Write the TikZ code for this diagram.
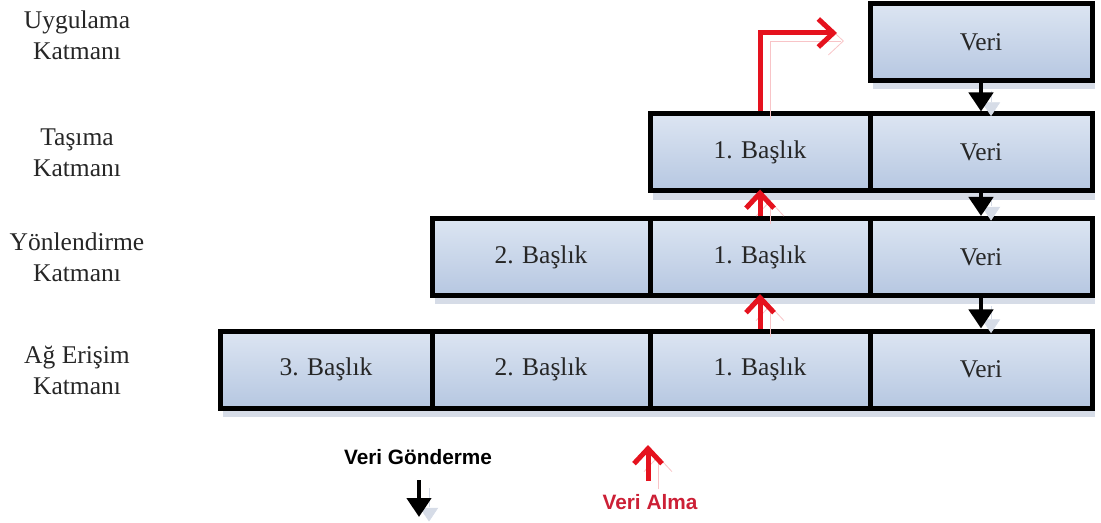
\documentclass[tikz,border=0pt]{standalone}
\usepackage{fontspec}
\setmainfont{Liberation Serif}
\newfontfamily\legendfont{Liberation Sans}
\usetikzlibrary{arrows.meta,shadows}
\definecolor{boxtop}{HTML}{DCE5F2}
\definecolor{boxbot}{HTML}{B6C7E1}
\definecolor{shadowblue}{HTML}{D6DCE7}
\definecolor{txt}{HTML}{262626}
\definecolor{recvred}{HTML}{E5121E}
\definecolor{recvtext}{HTML}{CC2036}
\begin{document}
\begin{tikzpicture}[x=0.5pt,y=-0.5pt,
  cell/.style={draw=black, line width=2.5pt, top color=boxtop, bottom color=boxbot,
    minimum height=38.5pt, inner sep=0pt, text=txt,
    font=\fontsize{12.75}{15}\selectfont,
    drop shadow={shadow xshift=1.5pt, shadow yshift=-4.5pt, fill=shadowblue, opacity=1}},
  colA/.style={cell, minimum width=106pt},
  colB/.style={cell, minimum width=109pt},
  colC/.style={cell, minimum width=110pt},
  colD/.style={cell, minimum width=111pt},
  layer/.style={align=center, text=txt, font=\fontsize{12.75}{15.5}\selectfont},
  legend/.style={font=\legendfont\bfseries\fontsize{10.4}{12}\selectfont, text=black},
  sendarrow/.style={line width=2.2pt, black,
    -{Triangle[width=12pt,length=9.5pt]},
    preaction={draw=shadowblue, transform canvas={shift={(5pt,-4pt)}}}},
  recvarrow/.style={line width=2.5pt, recvred, line cap=butt,
    -{Straight Barb[width=14pt,length=7.5pt]},
    preaction={draw=recvred!25, transform canvas={shift={(5pt,-4pt)}}}}
]
\useasboundingbox (0,0) rectangle (1101,523);

% layer names
\node[layer] (lapp) at (77,35)    {Uygulama\\Katmanı};
\node[layer] (ltra) at (77,152.5) {Taşıma\\Katmanı};
\node[layer] (lnet) at (77,257)   {Yönlendirme\\Katmanı};
\node[layer] (llnk) at (77,370)   {Ağ Erişim\\Katmanı};

% application layer
\node[colD] (r1c4) at (981,42) {Veri};
% transport layer
\node[colC] (r2c3) at (760,152.5) {1. Başlık};
\node[colD] (r2c4) at (981,152.5) {Veri};
% routing layer
\node[colB] (r3c2) at (541,257) {2. Başlık};
\node[colC] (r3c3) at (760,257) {1. Başlık};
\node[colD] (r3c4) at (981,257) {Veri};
% network access layer
\node[colA] (r4c1) at (326,369.5) {3. Başlık};
\node[colB] (r4c2) at (541,369.5) {2. Başlık};
\node[colC] (r4c3) at (760,369.5) {1. Başlık};
\node[colD] (r4c4) at (981,369.5) {Veri};

% sending: data goes down the stack
\draw[sendarrow] (r1c4.south) -- (r2c4.north);
\draw[sendarrow] (r2c4.south) -- (r3c4.north);
\draw[sendarrow] (r3c4.south) -- (r4c4.north);

% receiving: headers are stripped going up
\coordinate (apptip) at (837,33);
\draw[recvarrow, shorten >=-2pt] (r4c3.north) -- (r3c3.south);
\draw[recvarrow, shorten >=-2pt] (r3c3.north) -- (r2c3.south);
\draw[recvarrow] (r2c3.north) |- (apptip);

% legend
\node[legend] (send) at (418,457) {Veri Gönderme};
\coordinate (sendtop) at (419,480);
\coordinate (sendtip) at (419,517);
\draw[sendarrow] (sendtop) -- (sendtip);

\node[legend, text=recvtext] (recv) at (650,502) {Veri Alma};
\coordinate (recvbot) at (648,481);
\coordinate (recvtop) at (648,445);
\draw[recvarrow] (recvbot) -- (recvtop);
\end{tikzpicture}
\end{document}
